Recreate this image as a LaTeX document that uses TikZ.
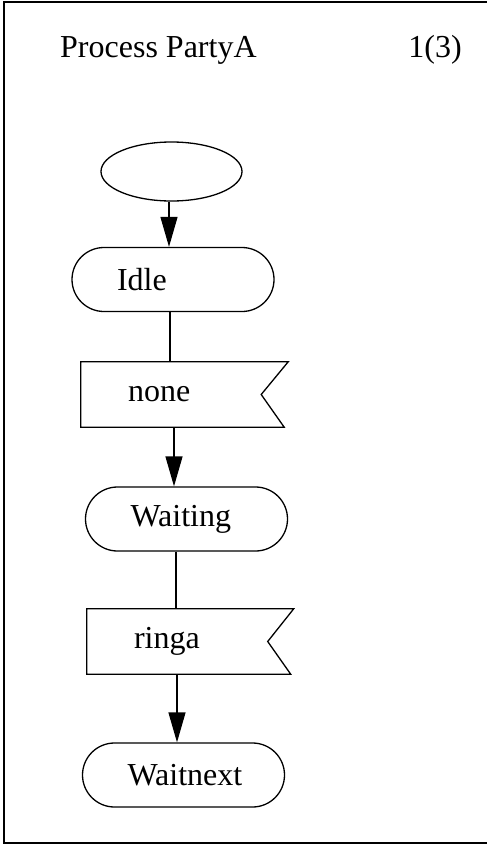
\documentclass[tikz,border=0pt]{standalone}
\usepackage{fontspec}
\setmainfont{Liberation Serif}
\usetikzlibrary{arrows.meta, shapes.geometric}

\newcommand{\sdlfont}{\fontsize{32}{38}\selectfont}

\tikzset{
  % Plain black outline shared by all symbols.
  outline/.style={draw=black, line width=1.3pt},
  % Start symbol (empty oval).
  start-oval/.style={
    ellipse, outline,
    minimum width=141pt, minimum height=59pt,
    inner sep=0pt,
  },
  % State symbol: stadium, text set flush left.
  state-box/.style={
    rectangle, rounded corners=32pt, outline,
    minimum width=202pt, minimum height=64pt,
    text width=112pt, inner xsep=45pt, inner ysep=0pt,
    align=left, font=\sdlfont,
  },
  % Signal input: bare rectangle, the notched outline is drawn on top.
  signal-box/.style={
    rectangle,
    minimum width=205pt, minimum height=65pt,
    text width=111pt, inner xsep=47pt, inner ysep=0pt,
    align=left, font=\sdlfont,
  },
  % Connectors.
  flow/.style={-{Triangle[length=30pt, width=17pt]}, line width=1.3pt},
  link/.style={line width=1.3pt},
  heading/.style={font=\sdlfont, inner sep=0pt},
}

\begin{document}
\begin{tikzpicture}[x=1pt, y=-1pt]

  \useasboundingbox (0,0) rectangle (487,844);

  % Page frame (runs off on the right).
  \draw[line width=1.3pt] (4,2) rectangle (495,843);

  % Heading.
  \node[heading, anchor=base west] (title) at (60,57) {Process PartyA};
  \node[heading, anchor=base east] (page) at (462,57) {1(3)};

  % Symbols, top to bottom.
  \node[start-oval] (start) at (171.5,171.5) {};
  \node[state-box] (idle) at (173,279.5) {Idle};
  \node[signal-box] (none) at (183.5,394.5) {none};
  \node[state-box] (waiting) at (186.5,519) {Waiting};
  \node[signal-box] (ringa) at (189.5,641.5) {ringa};
  \node[state-box] (waitnext) at (183.5,775) {Waitnext};

  % Notched outlines of the signal inputs.
  \draw[outline] ([xshift=2pt]none.north east) -- (none.north west)
    -- (none.south west) -- ([xshift=-2pt]none.south east)
    -- ([xshift=-25pt]none.east) -- cycle;
  \draw[outline] ([xshift=1.5pt]ringa.north east) -- (ringa.north west)
    -- (ringa.south west) -- ([xshift=-1.5pt]ringa.south east)
    -- ([xshift=-24.5pt]ringa.east) -- cycle;

  % Transitions.
  \draw[flow] ([xshift=-2.5pt]start.south) -- ([xshift=-2.5pt]start.south |- idle.north);
  \draw[link] ([xshift=-3pt]idle.south) -- ([xshift=-3pt]idle.south |- none.north);
  \draw[flow] ([xshift=-9.5pt]none.south) -- ([xshift=-9.5pt]none.south |- waiting.north);
  \draw[link] ([xshift=-10.5pt]waiting.south) -- ([xshift=-10.5pt]waiting.south |- ringa.north);
  \draw[flow] ([xshift=-12.5pt]ringa.south) -- ([xshift=-12.5pt]ringa.south |- waitnext.north);

\end{tikzpicture}
\end{document}
